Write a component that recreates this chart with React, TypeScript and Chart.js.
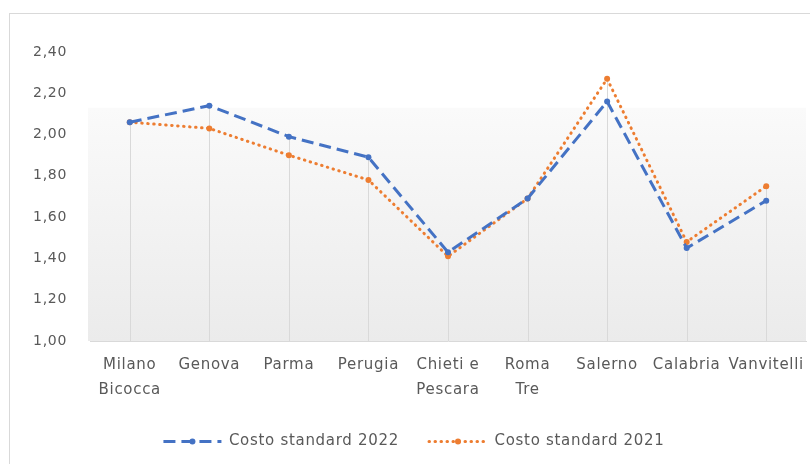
import React, { useEffect, useRef } from "react";
import { Chart, registerables } from "chart.js";

Chart.register(...registerables);

const categories: (string | string[])[] = [
  ["Milano", "Bicocca"],
  "Genova",
  "Parma",
  "Perugia",
  ["Chieti e", "Pescara"],
  ["Roma", "Tre"],
  "Salerno",
  "Calabria",
  "Vanvitelli",
];
const costo2022 = [2.06, 2.14, 1.99, 1.89, 1.43, 1.69, 2.16, 1.45, 1.68];
const costo2021 = [2.06, 2.03, 1.9, 1.78, 1.41, 1.69, 2.27, 1.48, 1.75];
const seriesNames = ["Costo standard 2022", "Costo standard 2021"];
const yMin = 1.0;
const yMax = 2.4;
const yStep = 0.2;

const BLUE = "#4472C4";
const ORANGE = "#ED7D31";
const TEXT = "#595959";
const GRID = "#d9d9d9";
const FONT = "'DejaVu Sans', sans-serif";
const COLORS = [BLUE, ORANGE];
const DASHES = [[12, 6], [0.5, 5.5]];
const CAPS = ["butt", "round"];

const textSpacingPlugin = {
  id: "textSpacing",
  beforeUpdate(chart: any) {
    chart.ctx.letterSpacing = "0.7px";
  },
  beforeDraw(chart: any) {
    chart.ctx.letterSpacing = "0.7px";
  },
};

const plotBgPlugin = {
  id: "plotBg",
  beforeDatasetsDraw(chart: any) {
    const { ctx, chartArea, scales } = chart;
    const x = scales.x;
    const y = scales.y;
    ctx.save();
    const g = ctx.createLinearGradient(0, chartArea.top, 0, chartArea.bottom);
    g.addColorStop(0, "rgba(255,255,255,0)");
    g.addColorStop(0.19, "rgba(255,255,255,0)");
    g.addColorStop(0.195, "#fafafa");
    g.addColorStop(1, "#ebebeb");
    ctx.fillStyle = g;
    ctx.fillRect(chartArea.left - 2, chartArea.top, chartArea.right - chartArea.left + 2, chartArea.bottom - chartArea.top);
    ctx.strokeStyle = GRID;
    ctx.lineWidth = 1;
    for (let i = 0; i < categories.length; i++) {
      const px = Math.round(x.getPixelForValue(i)) + 0.5;
      const top = y.getPixelForValue(Math.max(costo2022[i], costo2021[i]));
      const bottom = y.getPixelForValue(yMin);
      ctx.beginPath();
      ctx.moveTo(px, top);
      ctx.lineTo(px, bottom);
      ctx.stroke();
    }
    ctx.restore();
  },
  afterDraw(chart: any) {
    const legend = chart.legend;
    if (!legend || !legend.legendHitBoxes) return;
    const { ctx } = chart;
    ctx.save();
    legend.legendHitBoxes.forEach((hb: any, i: number) => {
      const bw = legend.options.labels.pointStyleWidth;
      const cx = hb.left + bw / 2;
      const cy = hb.top + hb.height / 2;
      ctx.fillStyle = COLORS[i];
      ctx.beginPath();
      ctx.arc(cx, cy, 3, 0, Math.PI * 2);
      ctx.fill();
    });
    ctx.restore();
  },
};

export default function App() {
  const ref = useRef<HTMLCanvasElement | null>(null);
  useEffect(() => {
    if (!ref.current) return;
    const chart = new Chart(ref.current, {
      type: "line",
      data: {
        labels: categories as any,
        datasets: [
          {
            label: seriesNames[0],
            data: costo2022,
            borderColor: BLUE,
            backgroundColor: BLUE,
            borderWidth: 3,
            borderDash: DASHES[0],
            borderCapStyle: CAPS[0],
            pointRadius: 3,
            pointBorderWidth: 0,
            pointBackgroundColor: BLUE,
            tension: 0,
          },
          {
            label: seriesNames[1],
            data: costo2021,
            borderColor: ORANGE,
            backgroundColor: ORANGE,
            borderWidth: 3,
            borderDash: DASHES[1],
            borderCapStyle: CAPS[1],
            pointRadius: 3,
            pointBorderWidth: 0,
            pointBackgroundColor: ORANGE,
            tension: 0,
          },
        ],
      },
      options: {
        animation: false,
        responsive: false,
        devicePixelRatio: 1,
        layout: { padding: { left: 20, top: 52, right: 2, bottom: 5 } },
        scales: {
          x: {
            offset: true,
            grid: { display: false, drawTicks: false, offset: true },
            border: { display: true, color: GRID, width: 1 },
            ticks: {
              autoSkip: false,
              maxRotation: 0,
              minRotation: 0,
              padding: 11,
              color: TEXT,
              font: { family: FONT, size: 15, lineHeight: 1.7 },
            },
            afterFit(scale: any) {
              scale.height = 63;
              scale.paddingLeft = 0;
              scale.paddingRight = 0;
            },
          },
          y: {
            min: yMin,
            max: yMax,
            grid: { display: false, drawTicks: false },
            border: { display: false },
            ticks: {
              stepSize: yStep,
              padding: 23,
              color: TEXT,
              font: { family: FONT, size: 14 },
              callback: (v: any) => Number(v).toFixed(2).replace(".", ","),
            },
            afterFit(scale: any) {
              scale.width = 70;
            },
          },
        },
        plugins: {
          legend: {
            position: "bottom",
            labels: {
              usePointStyle: true,
              pointStyle: "line",
              pointStyleWidth: 58,
              boxHeight: 3,
              padding: 30,
              color: TEXT,
              font: { family: FONT, size: 15 },
              generateLabels: (c: any) =>
                Chart.defaults.plugins.legend.labels.generateLabels(c).map((l: any, i: number) => ({
                  ...l,
                  pointStyle: "line",
                  lineWidth: 3,
                  strokeStyle: COLORS[i],
                  fillStyle: COLORS[i],
                  lineDash: DASHES[i],
                  lineCap: CAPS[i],
                })),
            },
          },
          tooltip: { enabled: false },
        },
      },
      plugins: [textSpacingPlugin, plotBgPlugin],
    } as any);
    return () => chart.destroy();
  }, []);

  return (
    <div style={{ position: "fixed", left: 0, top: 0, width: 810, height: 464, background: "#fff", overflow: "hidden" }}>
      <div
        style={{
          position: "absolute",
          left: 9,
          top: 13,
          width: 820,
          height: 470,
          borderTop: "1px solid #d9d9d9",
          borderLeft: "1px solid #d9d9d9",
        }}
      />
      <canvas ref={ref} width={810} height={464} style={{ position: "absolute", left: 0, top: 0 }} />
    </div>
  );
}
